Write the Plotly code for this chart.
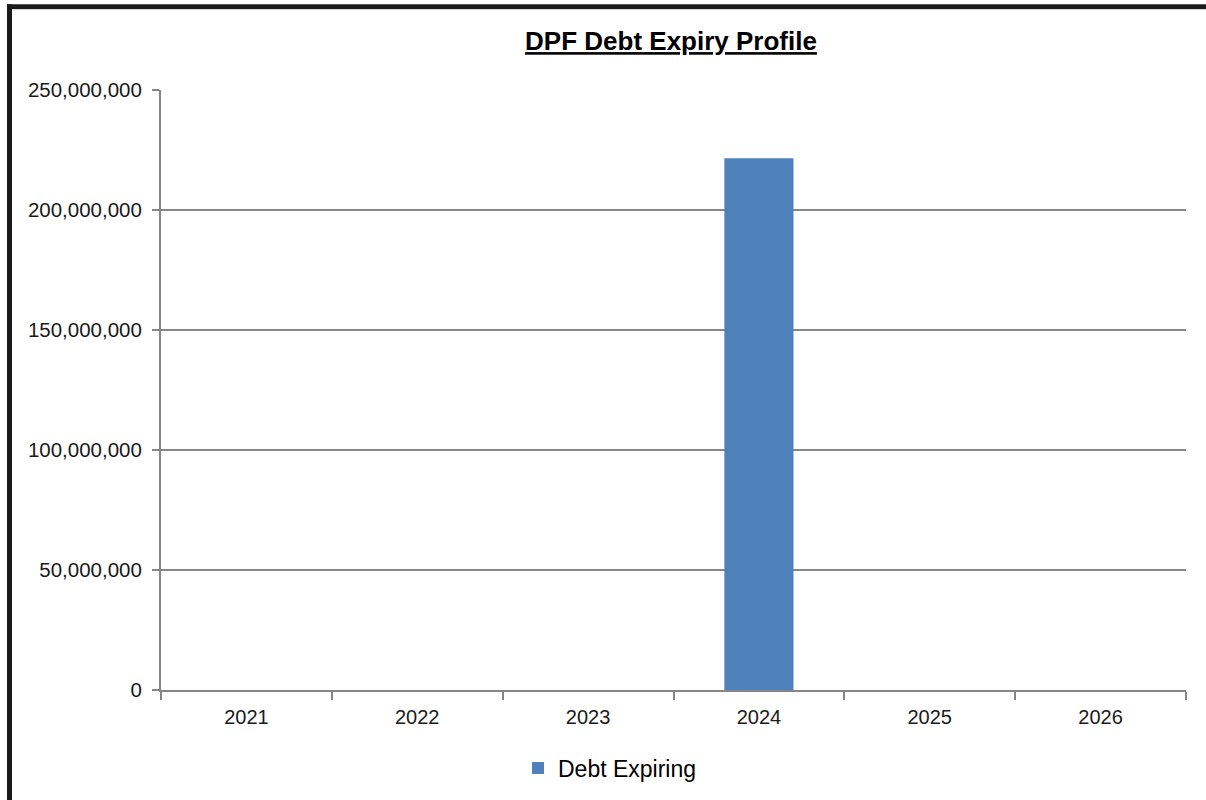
import plotly.graph_objects as go

years = ["2021", "2022", "2023", "2024", "2025", "2026"]
debt_expiring = [0, 0, 0, 221600000, 0, 0]
y_ticks = [0, 50000000, 100000000, 150000000, 200000000, 250000000]

FONT = "Liberation Sans, Arial, sans-serif"
GRID = "#868686"

fig = go.Figure()
fig.add_trace(go.Bar(
    x=years, y=debt_expiring, name="Debt Expiring",
    marker=dict(color="#4F81BD", line=dict(width=0)),
    showlegend=True,
))

L, R, T, B = 161, 20, 90, 109
W, H = 1206, 800
pw, ph = W - L - R, H - T - B

def px_x(px):
    return (px - L) / pw

def px_y(py):
    return (H - B - py) / ph

fig.update_layout(
    width=W, height=H,
    margin=dict(l=L, r=R, t=T, b=B),
    paper_bgcolor="white", plot_bgcolor="white",
    bargap=0.595,
    font=dict(family=FONT, size=20, color="#1a1a1a"),
    title=dict(
        text="<b><u>DPF Debt Expiry Profile</u></b>",
        x=671 / W, xanchor="center", xref="container",
        y=1 - 41 / H, yanchor="middle", yref="container",
        font=dict(family=FONT, size=26, color="#000000"),
    ),
    xaxis=dict(
        type="category", showgrid=False, showline=True, linecolor=GRID, linewidth=2,
        ticks="outside", tickson="boundaries", ticklen=8, tickwidth=2, tickcolor=GRID,
        ticklabelstandoff=8,
        tickfont=dict(family=FONT, size=20, color="#1a1a1a"),
    ),
    yaxis=dict(
        range=[0, 250000000], tickvals=y_ticks, tickformat=",d",
        showgrid=True, gridcolor=GRID, gridwidth=2,
        showline=True, linecolor=GRID, linewidth=2, zeroline=False,
        ticks="outside", ticklen=7, tickwidth=2, tickcolor=GRID,
        ticklabelstandoff=6,
        tickfont=dict(family=FONT, size=20.5, color="#1a1a1a"),
    ),
    legend=dict(
        orientation="h", x=px_x(518), xanchor="left", y=px_y(768), yanchor="middle",
        font=dict(family=FONT, size=23, color="#000000"),
        itemsizing="constant",
    ),
    shapes=[
        dict(type="line", xref="paper", yref="paper",
             x0=px_x(9.5), x1=px_x(9.5), y0=px_y(4), y1=px_y(820),
             line=dict(color="#1a1a1a", width=5)),
        dict(type="line", xref="paper", yref="paper",
             x0=px_x(7), x1=px_x(1220), y0=px_y(6.5), y1=px_y(6.5),
             line=dict(color="#1a1a1a", width=5)),
        dict(type="line", xref="paper", yref="paper",
             x0=px_x(12), x1=px_x(1220), y0=px_y(9.5), y1=px_y(9.5),
             line=dict(color="#d8d8d8", width=1)),
    ],
)

fig.write_html("out.html")
